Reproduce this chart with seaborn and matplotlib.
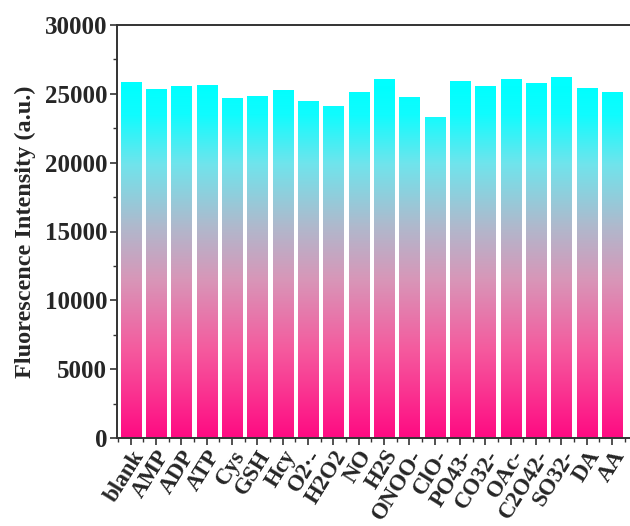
import numpy as np
import pandas as pd
import matplotlib
matplotlib.use("Agg")
import matplotlib.pyplot as plt
from matplotlib.colors import LinearSegmentedColormap
from matplotlib.ticker import MultipleLocator, FixedLocator
import seaborn as sns

analytes = ["blank", "AMP", "ADP", "ATP", "Cys", "GSH", "Hcy", "O2·-", "H2O2", "NO",
            "H2S", "ONOO-", "ClO-", "PO43-", "CO32-", "OAc-", "C2O42-", "SO32-", "DA", "AA"]
intensity = [25850, 25350, 25570, 25640, 24670, 24810, 25300, 24500, 24090, 25130,
             26070, 24740, 23330, 25900, 25570, 26100, 25800, 26240, 25420, 25130]

df = pd.DataFrame({"analyte": analytes, "intensity": intensity})

sns.set_theme(style="white")
plt.rcParams["font.family"] = ["Liberation Serif", "DejaVu Serif"]
plt.rcParams["font.weight"] = "bold"

fig = plt.figure(figsize=(6.3, 5.26), dpi=100)
ax = fig.add_axes([117 / 630, 88 / 526, 1 - 117 / 630, (438 - 25) / 526])

sns.barplot(data=df, x="analyte", y="intensity", width=0.8, color="white",
            edgecolor="none", ax=ax)

# vertical gradient: pink at the baseline, cyan toward the bar tops
grad = LinearSegmentedColormap.from_list(
    "pink_cyan",
    [(0.0, "#ff0a82"), (0.25, "#f55a9e"), (0.45, "#d896b8"), (0.6, "#b0b8cc"),
     (0.78, "#70e4ec"), (0.92, "#10fcfe"), (1.0, "#00ffff")], N=2048)
vmax = 25500
for patch in ax.patches:
    x0 = patch.get_x()
    w = patch.get_width()
    h = patch.get_height()
    col = np.linspace(0, h, 2048).reshape(-1, 1)
    im = ax.imshow(col, cmap=grad, vmin=0, vmax=vmax, origin="lower",
                   extent=[x0, x0 + w, 0, h], aspect="auto", zorder=2,
                   interpolation="bilinear", interpolation_stage="rgba")
    im.set_clip_path(patch)
    patch.set_facecolor("none")

ax.set_xlim(-0.54, 19.71)
ax.set_ylim(0, 30000)

ax.yaxis.set_major_locator(MultipleLocator(5000))
ax.yaxis.set_minor_locator(MultipleLocator(2500))
ax.xaxis.set_minor_locator(FixedLocator(np.arange(-0.5, 20, 1.0)))

spine_col = "#333333"
for side in ["left", "top", "bottom"]:
    ax.spines[side].set_visible(True)
    ax.spines[side].set_color(spine_col)
    ax.spines[side].set_linewidth(1.4)
ax.spines["right"].set_visible(False)

ax.tick_params(axis="both", which="major", direction="out", length=5, width=1.2,
               color=spine_col, labelsize=18, pad=2)
ax.tick_params(axis="both", which="minor", direction="out", length=3, width=1.0,
               color=spine_col)
ax.tick_params(axis="x", which="both", bottom=True, top=False)
ax.tick_params(axis="y", which="both", left=True, right=False)
ax.tick_params(axis="x", which="major", labelsize=16.5, pad=1)

for lab in ax.get_xticklabels():
    lab.set_rotation(58)
    lab.set_ha("right")
    lab.set_rotation_mode("anchor")
    lab.set_fontweight("bold")
for lab in ax.get_yticklabels():
    lab.set_fontweight("bold")

ax.set_xlabel("")
ax.set_ylabel("Fluorescence Intensity (a.u.)", fontsize=17.5, fontweight="bold", labelpad=6)
ax.grid(False)

fig.savefig("out.png", dpi=100, facecolor="white")
